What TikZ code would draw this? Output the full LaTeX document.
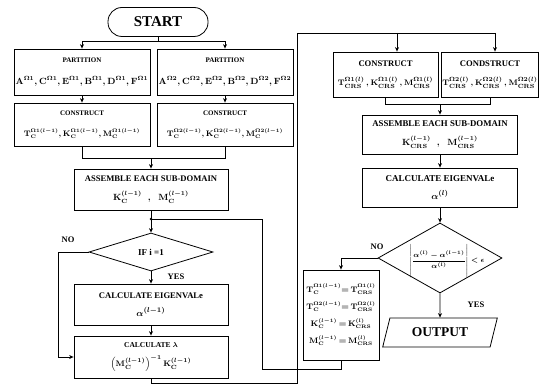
\documentclass[tikz,border=0pt]{standalone}
\usepackage{amsmath,bm}
\usepackage{fontspec}
\setmainfont{Liberation Serif}
\usetikzlibrary{shapes.geometric,arrows.meta}
\newcommand{\xT}[1]{\mathbf{T}_{\mathbf{C}}^{#1}}
\newcommand{\xK}[1]{\mathbf{K}_{\mathbf{C}}^{#1}}
\newcommand{\xM}[1]{\mathbf{M}_{\mathbf{C}}^{#1}}
\newcommand{\yT}[1]{\mathbf{T}_{\mathbf{CRS}}^{#1}}
\newcommand{\yK}[1]{\mathbf{K}_{\mathbf{CRS}}^{#1}}
\newcommand{\yM}[1]{\mathbf{M}_{\mathbf{CRS}}^{#1}}
\newcommand{\ttlf}[1]{\fontsize{#1}{#1}\selectfont\bfseries}
\newcommand{\fmlf}[1]{\fontsize{#1}{#1}\selectfont\bfseries\boldmath}
\begin{document}
\begin{tikzpicture}[x=1pt,y=-1pt,line width=0.8pt,
  >={Stealth[length=4.5pt,width=4pt]},
  box/.style={draw,align=center,inner sep=1pt},
  lbl/.style={font=\fontsize{8.5}{9}\selectfont\bfseries,inner sep=0pt}]
\useasboundingbox (0,0) rectangle (553,385);
% left column
\node[draw,rounded corners=14pt,minimum width=100pt,minimum height=29pt,
  font=\fontsize{15}{15}\selectfont\bfseries] (start) at (158,22) {START};
\node[box,minimum width=136pt,minimum height=46pt] (p1) at (82,72)
  {{\ttlf{7}PARTITION}\\[10pt]{\fmlf{8.6}$\mathbf{A}^{\Omega1},\mathbf{C}^{\Omega1},\mathbf{E}^{\Omega1},\mathbf{B}^{\Omega1},\mathbf{D}^{\Omega1},\mathbf{F}^{\Omega1}$}};
\node[box,minimum width=136pt,minimum height=46pt] (p2) at (225,72)
  {{\ttlf{7}PARTITION}\\[10pt]{\fmlf{8.6}$\mathbf{A}^{\Omega2},\mathbf{C}^{\Omega2},\mathbf{E}^{\Omega2},\mathbf{B}^{\Omega2},\mathbf{D}^{\Omega2},\mathbf{F}^{\Omega2}$}};
\node[box,minimum width=136pt,minimum height=43pt] (c1) at (82,124.5)
  {{\ttlf{7}CONSTRUCT}\\[9pt]{\fmlf{7.6}$\xT{\Omega1(l-1)},\xK{\Omega1(l-1)},\xM{\Omega1(l-1)}$}};
\node[box,minimum width=136pt,minimum height=43pt] (c2) at (225,124.5)
  {{\ttlf{7}CONSTRUCT}\\[9pt]{\fmlf{7.6}$\xT{\Omega2(l-1)},\xK{\Omega2(l-1)},\xM{\Omega2(l-1)}$}};
\node[box,minimum width=154pt,minimum height=41pt] (as1) at (151,189.5)
  {{\ttlf{8.6}ASSEMBLE EACH SUB-DOMAIN}\\[7pt]{\fmlf{9}$\xK{(l-1)}\;\;,\;\;\xM{(l-1)}$}};
\node[draw,diamond,aspect=3.26,minimum width=124pt,minimum height=38pt,inner sep=0pt,
  font=\fontsize{9}{9}\selectfont\bfseries] (if) at (151,252) {IF i =1};
\node[box,minimum width=154pt,minimum height=41pt] (ev1) at (151,304.5)
  {{\ttlf{8.6}CALCULATE EIGENVALe}\\[6pt]{\fmlf{9.5}$\alpha^{(l-1)}$}};
\node[box,minimum width=154pt,minimum height=42pt] (lam) at (151,357)
  {{\ttlf{7.5}CALCULATE $\boldsymbol{\lambda}$}\\[7pt]{\fmlf{8.5}$\left(\xM{(l-1)}\right)^{-1}\xK{(l-1)}$}};
% right column
\node[box,minimum width=105pt,minimum height=45pt] (rc1) at (385.5,74.5)
  {{\ttlf{8.6}CONSTRUCT}\\[7pt]{\fmlf{8}$\yT{\Omega1(l)}\,,\yK{\Omega1(l)}\,,\yM{\Omega1(l)}$}};
\node[box,minimum width=94pt,minimum height=45pt] (rc2) at (490,74.5)
  {{\ttlf{8.6}CONDSTRUCT}\\[7pt]{\fmlf{8}$\yT{\Omega2(l)}\,,\yK{\Omega2(l)}\,,\yM{\Omega2(l)}$}};
\node[box,minimum width=155pt,minimum height=39pt] (ras) at (440,134.5)
  {{\ttlf{8.8}ASSEMBLE EACH SUB-DOMAIN}\\[7pt]{\fmlf{9}$\yK{(l-1)}\;\;,\;\;\yM{(l-1)}$}};
\node[box,minimum width=155pt,minimum height=39pt] (rev) at (440,187.5)
  {{\ttlf{9}CALCULATE EIGENVALe}\\[6pt]{\fmlf{9.5}$\alpha^{(l)}$}};
\node[draw,diamond,aspect=1.77,minimum width=124pt,minimum height=70pt,inner sep=0pt] (dia2) at (440,258) {};
\node[inner sep=0pt,font=\fontsize{7}{7}\selectfont\bfseries\boldmath] (dtext) at (447,261)
  {$\left\vert\rule[-15pt]{0pt}{34pt}\dfrac{\alpha^{(l)}-\alpha^{(l-1)}}{\alpha^{(l)}}\right\vert<\epsilon$};
\node[draw,minimum width=76pt,minimum height=90pt,inner sep=1pt] (tbox) at (341,315)
  {{\fmlf{7.7}$\begin{array}{@{}c@{}}
   \xT{\Omega1(l-1)}{=}\,\yT{\Omega1(l)}\\[7pt]
   \xT{\Omega2(l-1)}{=}\,\yT{\Omega2(l)}\\[7pt]
   \xK{(l-1)}\,{=}\,\yK{(l)}\\[7pt]
   \xM{(l-1)}\,{=}\,\yM{(l)}
   \end{array}$}};
\node[draw,trapezium,trapezium left angle=66,trapezium right angle=114,trapezium stretches=true,
  minimum width=115pt,minimum height=29pt,inner sep=0pt,
  font=\fontsize{13.5}{13.5}\selectfont\bfseries] (out) at (440,332.5) {OUTPUT};
% labels
\node[lbl] (no1) at (68,240) {NO};
\node[lbl] (yes1) at (176,277) {YES};
\node[lbl] (no2) at (377,247) {NO};
\node[lbl] (yes2) at (476,305) {YES};
% coordinates
\coordinate (j1) at (158,41);
\coordinate (j2) at (151,158);
\coordinate (j3) at (151,219);
\coordinate (l1) at (262,369);
\coordinate (n1) at (58,252);
\coordinate (b1) at (151,383);
\coordinate (b2) at (297,383);
\coordinate (b3) at (297,33);
\coordinate (t1) at (397,33);
\coordinate (t2) at (495,33);
\coordinate (j4) at (440,104);
\coordinate (n2) at (341,258);
% connectors
\draw (start.south) -- (j1);
\draw[->] (j1) -| (p1.north);
\draw[->] (j1) -| (p2.north);
\draw[->] (p1.south) -- (c1.north);
\draw[->] (p2.south) -- (c2.north);
\draw (c1.south) |- (j2);
\draw (c2.south) |- (j2);
\draw[->] (j2) -- (as1.north);
\draw[->] (as1.south) -- (if.north);
\draw (tbox.south) |- (l1) -- (l1 |- j3) -- (j3);
\fill (j3) circle (1.3pt);
\draw[->] (if.west) -- (n1) |- (lam.west);
\draw[->] (if.south) -- (ev1.north);
\draw[->] (ev1.south) -- (lam.north);
\draw (lam.south) -- (b1) -- (b2) -- (b3) -- (t2);
\draw[->] (t1) -- (t1 |- rc1.north);
\draw[->] (t2) -- (t2 |- rc2.north);
\draw (rc1.south) |- (j4);
\draw (rc2.south) |- (j4);
\draw[->] (j4) -- (ras.north);
\draw[->] (ras.south) -- (rev.north);
\draw[->] (rev.south) -- (dia2.north);
\draw[->] (dia2.west) -- (n2) -- (tbox.north);
\draw[->] (dia2.south) -- (out.north);
\end{tikzpicture}
\end{document}
